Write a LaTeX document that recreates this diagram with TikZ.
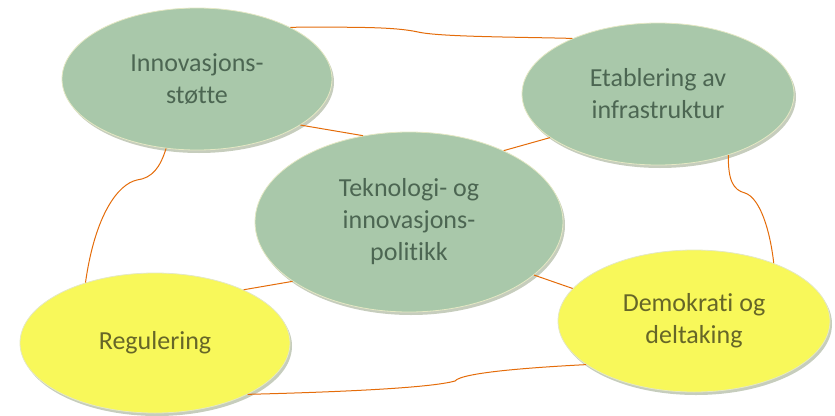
\documentclass[tikz,border=0pt]{standalone}
\usepackage{fontspec}
\setmainfont[Ligatures=NoCommon]{Carlito}
\usetikzlibrary{shapes.geometric,shadows}

\definecolor{sage}{HTML}{A9C8AA}
\definecolor{sagetext}{HTML}{4C6652}
\definecolor{lemon}{HTML}{F8F85A}
\definecolor{lemontext}{HTML}{666628}
\definecolor{rim}{HTML}{E4E8C4}
\definecolor{shade}{HTML}{98A486}
\definecolor{link}{HTML}{E46C0A}

\tikzset{
  topic/.style={ellipse, inner sep=0pt, align=center, draw=rim, line width=0.8pt,
    font=\fontsize{26}{32}\selectfont,
    drop shadow={shadow xshift=2pt, shadow yshift=-3pt, fill=shade, opacity=0.55}},
  greentopic/.style={topic, fill=sage, text=sagetext},
  yellowtopic/.style={topic, fill=lemon, text=lemontext},
  connector/.style={draw=link, line width=1pt},
}

\begin{document}
\begin{tikzpicture}[x=1pt, y=-1pt]
  \useasboundingbox (0,0) rectangle (835,415);

  % policy areas around the central theme
  \node[greentopic, minimum width=270pt, minimum height=142pt] (innov) at (197,79)
    {Innovasjons-\\støtte};
  \node[greentopic, minimum width=272pt, minimum height=142pt] (infra) at (658,94)
    {Etablering av\\infrastruktur};
  \node[yellowtopic, minimum width=270pt, minimum height=140pt] (reg) at (155,343)
    {Regulering};
  \node[yellowtopic, minimum width=272pt, minimum height=142pt] (demo) at (694,321)
    {Demokrati og\\deltaking};
  \node[greentopic, minimum width=308pt, minimum height=180pt] (core) at (409,222)
    {Teknologi- og\\innovasjons-\\politikk};

  % links from the centre
  \draw[connector] (innov.-24) -- (core.118.6);
  \draw[connector] (infra.202.7) -- (core.37.8);
  \draw[connector] (core.207) -- (reg.31.3);
  \draw[connector] (core.-23) -- (demo.165.7);

  % outer ring
  \draw[connector] (innov.29) .. controls (360,27) and (395,27) .. (418,32)
    .. controls (440,37) and (520,37) .. (infra.147.5);
  \draw[connector] (innov.246) .. controls (160,168) and (152,178) .. (137,180)
    .. controls (118,184) and (95,215) .. (reg.139.4);
  \draw[connector] (infra.-41.3) .. controls (728,180) and (733,190) .. (745,193)
    .. controls (760,198) and (770,230) .. (demo.36.3);
  \draw[connector] (reg.-29.5) .. controls (340,392) and (430,388) .. (455,381)
    .. controls (462,372) and (540,367) .. (demo.202);
\end{tikzpicture}
\end{document}
